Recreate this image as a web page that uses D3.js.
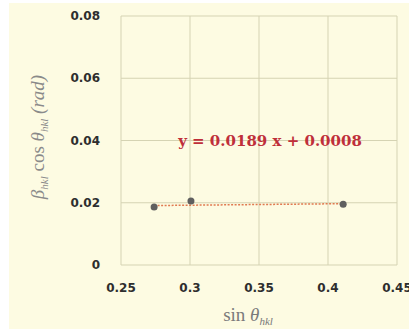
<!doctype html>
<html>
<head>
<meta charset="UTF-8">
<title>Williamson-Hall plot</title>
<script src="https://d3js.org/d3.v7.min.js"></script>
<style>
  body { margin: 0; background: #fff; }
</style>
</head>
<body>
<script>
    // data
    var sinTheta = [0.274, 0.3007, 0.411];
    var betaCos = [0.0186, 0.0206, 0.0195];
    // trendline as drawn (two end points)
    var fitX = [0.274, 0.411];
    var fitY = [0.0191, 0.0197];
    var xTicks = [0.25, 0.3, 0.35, 0.4, 0.45];
    var yTicks = [0, 0.02, 0.04, 0.06, 0.08];
    var equation = "y = 0.0189 x + 0.0008";

    var w = 409, h = 332;
    var pl = 121, pr = 397, pt = 16, pb = 265;

    var svg = d3.select("body").append("svg")
        .attr("width", w).attr("height", h);

    svg.append("rect").attr("x", 9).attr("y", 3)
        .attr("width", w - 9).attr("height", 326)
        .attr("fill", "#fdfbe2");

    var x = d3.scaleLinear().domain([0.25, 0.45]).range([pl, pr]);
    var y = d3.scaleLinear().domain([0, 0.08]).range([pb, pt]);

    // grid
    var grid = svg.append("g").attr("stroke", "#d5d3b3").attr("stroke-width", 1);
    grid.selectAll(".vx").data(xTicks).enter().append("line")
        .attr("x1", function(d){ return x(d); }).attr("x2", function(d){ return x(d); })
        .attr("y1", pt).attr("y2", pb);
    grid.selectAll(".hy").data(yTicks).enter().append("line")
        .attr("y1", function(d){ return y(d); }).attr("y2", function(d){ return y(d); })
        .attr("x1", pl).attr("x2", pr);

    // tick labels
    svg.selectAll(".yt").data(yTicks).enter().append("text")
        .attr("x", 100).attr("y", function(d){ return y(d) + 4; })
        .attr("text-anchor", "end")
        .style("font", "bold 12px 'DejaVu Sans'").attr("fill", "#2e2e2e")
        .text(function(d){ return d === 0 ? "0" : d3.format(".2f")(d); });

    svg.selectAll(".xt").data(xTicks).enter().append("text")
        .attr("x", function(d){ return x(d); }).attr("y", 292)
        .attr("text-anchor", "middle")
        .style("font", "bold 12px 'DejaVu Sans'").attr("fill", "#2e2e2e")
        .text(function(d){ return String(d); });

    // trendline
    svg.append("line")
        .attr("x1", x(fitX[0])).attr("y1", y(fitY[0]))
        .attr("x2", x(fitX[1])).attr("y2", y(fitY[1]))
        .attr("stroke", "#e07a50").attr("stroke-width", 1.5)
        .attr("stroke-dasharray", "2,1.5");

    // points
    svg.selectAll("circle").data(sinTheta).enter().append("circle")
        .attr("cx", function(d){ return x(d); })
        .attr("cy", function(d, i){ return y(betaCos[i]); })
        .attr("r", 3.5).attr("fill", "#5f5f5f");

    // equation
    svg.append("text").attr("x", 270).attr("y", 146)
        .attr("text-anchor", "middle")
        .style("font", "bold 15px 'DejaVu Serif'").attr("fill", "#bf2f3a")
        .text(equation);

    // x title
    var xt = svg.append("text").attr("x", 248).attr("y", 321)
        .attr("text-anchor", "middle")
        .style("font-family", "'Liberation Serif'").style("font-size", "19px")
        .attr("fill", "#7a7a7a");
    xt.append("tspan").text("sin ");
    xt.append("tspan").style("font-style", "italic").text("θ");
    xt.append("tspan").attr("dy", 4).style("font-size", "11px").style("font-style", "italic").text("hkl");

    // y title
    var yt = svg.append("text")
        .attr("transform", "translate(44,137) rotate(-90)")
        .attr("text-anchor", "middle")
        .style("font-family", "'Liberation Serif'").style("font-size", "19px")
        .attr("fill", "#8a8a8a");
    yt.append("tspan").style("font-style", "italic").text("β");
    yt.append("tspan").attr("dy", 4).style("font-size", "11px").style("font-style", "italic").text("hkl");
    yt.append("tspan").attr("dy", -4).text("  cos ");
    yt.append("tspan").style("font-style", "italic").text("θ");
    yt.append("tspan").attr("dy", 4).style("font-size", "11px").style("font-style", "italic").text("hkl");
    yt.append("tspan").attr("dy", -4).style("font-style", "italic").text("  (rad)");
</script>
</body>
</html>
